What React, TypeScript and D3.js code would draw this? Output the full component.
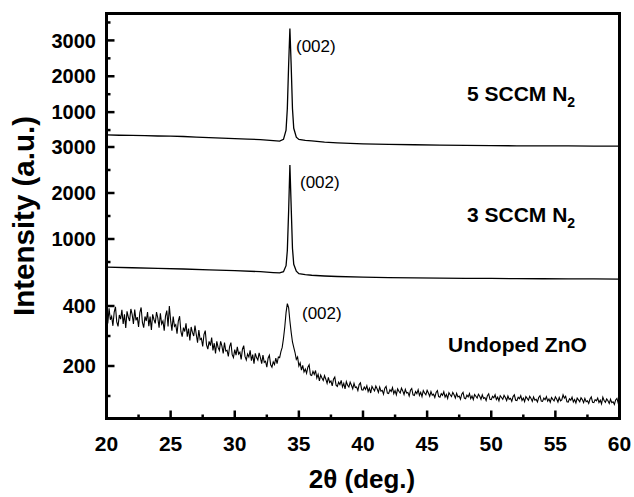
import React from "react";
import * as d3 from "d3";

// ---- data ----
const X_DOMAIN = [20, 60];
const X_MAJOR = [20, 25, 30, 35, 40, 45, 50, 55, 60];
const X_MINOR = [22.5, 27.5, 32.5, 37.5, 42.5, 47.5, 52.5, 57.5];

const TOP_MAJOR = [1000, 2000, 3000];
const TOP_MINOR = [500, 1500, 2500, 3500];
const MID_MAJOR = [1000, 2000, 3000];
const MID_MINOR = [500, 1500, 2500];
const BOT_MAJOR = [200, 400];
const BOT_MINOR = [100, 300];

// 5 SCCM N2
const S5_X = [20, 21, 22, 23, 24, 25, 26, 27, 28, 29, 30, 31, 32, 33, 33.5, 33.8, 34.0, 34.1, 34.2, 34.3, 34.4, 34.5, 34.6, 34.8, 35.0, 35.5, 36, 37, 38, 39, 40, 42, 44, 46, 48, 50, 52, 54, 56, 58, 60];
const S5_Y = [365, 355, 350, 345, 335, 330, 320, 305, 290, 275, 262, 250, 232, 205, 190, 240, 500, 1100, 2300, 3330, 2300, 1100, 550, 300, 240, 215, 200, 165, 145, 130, 115, 100, 90, 80, 72, 66, 62, 60, 57, 55, 52];

// 3 SCCM N2
const S3_X = [20, 22, 24, 26, 28, 30, 32, 33, 33.5, 33.8, 34.0, 34.1, 34.2, 34.3, 34.4, 34.5, 34.6, 34.8, 35.0, 35.5, 36, 37, 38, 40, 42, 44, 46, 48, 50, 52, 54, 56, 58, 60];
const S3_Y = [390, 375, 362, 348, 330, 312, 290, 270, 262, 290, 420, 750, 1600, 2610, 1700, 800, 450, 300, 245, 225, 212, 196, 185, 170, 160, 155, 150, 146, 142, 139, 136, 134, 131, 129];

// Undoped ZnO (scan from 20 deg in 0.1 deg steps)
const U_START = 20;
const U_STEP = 0.1;
const U_Y = [
  // 20.0 - 24.9
  374, 342, 392, 354, 365, 334, 380, 397, 347, 332,
  370, 356, 387, 340, 372, 327, 382, 363, 350, 390,
  372, 340, 388, 352, 363, 330, 378, 395, 345, 328,
  365, 350, 380, 333, 365, 320, 372, 355, 342, 380,
  360, 328, 376, 340, 350, 318, 366, 385, 332, 400,
  // 25.0 - 29.9
  352, 318, 365, 332, 338, 308, 350, 366, 315, 298,
  328, 315, 342, 298, 325, 285, 330, 312, 300, 335,
  305, 278, 320, 288, 292, 265, 305, 318, 270, 256,
  282, 268, 295, 252, 276, 242, 282, 262, 252, 282,
  266, 242, 278, 250, 252, 232, 265, 278, 238, 228,
  // 30.0 - 33.5
  255, 236, 264, 240, 246, 222, 256, 268, 232, 220,
  240, 230, 252, 218, 238, 208, 242, 228, 220, 244,
  228, 208, 236, 212, 216, 196, 226, 236, 204, 196,
  214, 205, 226, 208, 230, 228,
  // 33.6 - 35.0
  248, 262, 292, 330, 378, 408, 395, 350, 312, 280,
  262, 245, 222, 230, 200,
  // 35.1 - 39.9
  210, 186, 202, 180, 190, 176, 196, 204, 170,
  168, 182, 172, 185, 160, 172, 150, 170, 160, 152,
  168, 156, 142, 162, 145, 150, 134, 156, 163, 136,
  132, 146, 138, 152, 130, 142, 124, 148, 136, 130,
  146, 136, 124, 142, 128, 130, 118, 138, 144, 121,
  // 40.0 - 44.9
  120, 130, 122, 134, 115, 126, 110, 132, 124, 117,
  133, 124, 112, 130, 116, 119, 106, 126, 132, 110,
  108, 121, 115, 128, 108, 118, 104, 124, 116, 110,
  126, 117, 105, 122, 110, 112, 100, 119, 125, 104,
  102, 115, 108, 121, 102, 112, 98, 118, 110, 104,
  // 45.0 - 49.9
  119, 110, 99, 115, 103, 106, 95, 112, 118, 98,
  96, 108, 102, 114, 96, 105, 92, 111, 104, 98,
  112, 104, 93, 109, 97, 100, 89, 106, 112, 93,
  91, 103, 97, 108, 91, 100, 88, 105, 99, 93,
  106, 99, 89, 104, 92, 95, 85, 101, 107, 89,
  // 50.0 - 54.9
  88, 99, 94, 104, 88, 96, 84, 101, 95, 89,
  102, 95, 85, 100, 89, 92, 82, 98, 104, 86,
  85, 96, 91, 101, 85, 93, 81, 98, 92, 86,
  99, 92, 82, 97, 86, 89, 80, 95, 101, 83,
  82, 93, 88, 98, 83, 90, 79, 95, 89, 84,
  // 55.0 - 60.0
  97, 90, 80, 95, 84, 87, 104, 93, 99, 81,
  80, 91, 86, 96, 80, 88, 77, 93, 87, 81,
  94, 88, 78, 92, 81, 84, 75, 90, 97, 79,
  78, 88, 84, 93, 78, 86, 74, 96, 85, 79,
  90, 84, 75, 89, 78, 81, 72, 87, 92, 76,
  80,
];

const PEAK_LABEL = "(002)";
const SERIES_LABELS = ["5 SCCM N", "3 SCCM N", "Undoped ZnO"];

// ---- layout ----
const W = 634;
const H = 497;
const L = 106.5, R = 619.5, T = 13.5, B = 418.5;
const FONT = "'Liberation Sans', Arial, sans-serif";

export default function App() {
  const x = d3.scaleLinear().domain(X_DOMAIN).range([L, R]);
  const yTop = d3.scaleLinear().domain([0, 3750]).range([148, T]);
  const yMid = d3.scaleLinear().domain([0, 3000]).range([285, 147]);
  const yBot = d3.scaleLinear().domain([0, 400]).range([426, 306]);

  const mk = (ys: d3.ScaleLinear<number, number>) =>
    d3.line<[number, number]>().x((d) => x(d[0])).y((d) => ys(d[1]));

  const s5 = S5_X.map((v, i) => [v, S5_Y[i]] as [number, number]);
  const s3 = S3_X.map((v, i) => [v, S3_Y[i]] as [number, number]);
  const su = U_Y.map((v, i) => [U_START + i * U_STEP, v] as [number, number]);

  const panels = [
    { s: yTop, major: TOP_MAJOR, minor: TOP_MINOR },
    { s: yMid, major: MID_MAJOR, minor: MID_MINOR },
    { s: yBot, major: BOT_MAJOR, minor: BOT_MINOR },
  ];

  return (
    <svg width={W} height={H} style={{ position: "absolute", left: 0, top: 0, background: "#fff" }} fontFamily={FONT}>
      {/* data */}
      <path d={mk(yTop)(s5) || ""} fill="none" stroke="#000" strokeWidth={1.3} />
      <path d={mk(yMid)(s3) || ""} fill="none" stroke="#000" strokeWidth={1.3} />
      <path d={mk(yBot)(su) || ""} fill="none" stroke="#000" strokeWidth={1.1} />

      {/* frame */}
      <rect x={L} y={T} width={R - L} height={B - T} fill="none" stroke="#000" strokeWidth={3} />

      {/* y ticks */}
      {panels.map((p, pi) => (
        <g key={pi}>
          {p.major.map((v) => (
            <g key={"M" + v}>
              <line x1={L} x2={L + 8} y1={p.s(v)} y2={p.s(v)} stroke="#000" strokeWidth={2.5} />
              <text x={96} y={p.s(v)} dy="0.36em" textAnchor="end" fontSize={20} fontWeight="bold">{v}</text>
            </g>
          ))}
          {p.minor.map((v) => (
            <line key={"m" + v} x1={L} x2={L + 4} y1={p.s(v)} y2={p.s(v)} stroke="#000" strokeWidth={2.5} />
          ))}
        </g>
      ))}

      {/* x ticks */}
      {X_MAJOR.map((v) => (
        <g key={"x" + v}>
          <line x1={x(v)} x2={x(v)} y1={B} y2={B - 8} stroke="#000" strokeWidth={2.5} />
          <text x={x(v)} y={451} textAnchor="middle" fontSize={21} fontWeight="bold">{v}</text>
        </g>
      ))}
      {X_MINOR.map((v) => (
        <line key={"xm" + v} x1={x(v)} x2={x(v)} y1={B} y2={B - 4} stroke="#000" strokeWidth={2.5} />
      ))}

      {/* axis titles */}
      <text x={362} y={488} textAnchor="middle" fontSize={26} fontWeight="bold">2θ (deg.)</text>
      <text transform="translate(34,216) rotate(-90)" textAnchor="middle" fontSize={29.5} fontWeight="bold">Intensity (a.u.)</text>

      {/* peak labels */}
      <text x={296} y={46} dy="0.35em" fontSize={17}>{PEAK_LABEL}</text>
      <text x={300} y={182} dy="0.35em" fontSize={17}>{PEAK_LABEL}</text>
      <text x={302} y={313} dy="0.35em" fontSize={17}>{PEAK_LABEL}</text>

      {/* series labels */}
      <text x={467} y={101} fontSize={21} fontWeight="bold">{SERIES_LABELS[0]}<tspan fontSize={14} dy={6}>2</tspan></text>
      <text x={467} y={222} fontSize={21} fontWeight="bold">{SERIES_LABELS[1]}<tspan fontSize={14} dy={6}>2</tspan></text>
      <text x={448} y={352} fontSize={21} fontWeight="bold">{SERIES_LABELS[2]}</text>
    </svg>
  );
}
